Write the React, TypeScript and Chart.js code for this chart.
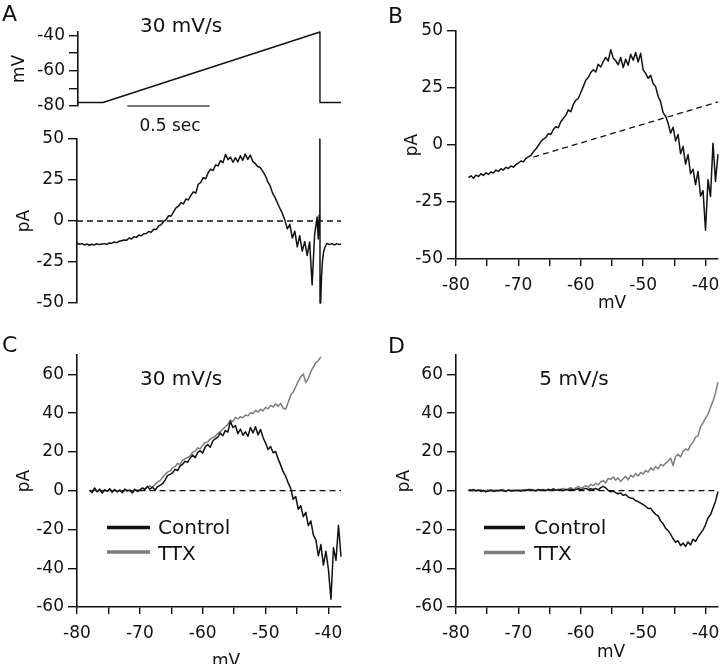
import React, { useEffect, useRef } from 'react';
import { Chart, registerables } from 'chart.js';

Chart.register(...registerables);

const FONT = "'DejaVu Sans', sans-serif";
const INK = '#111111';
const GRAY = '#7d7d7d';
const TRACE_W = 1.5;

// ---------- Panel A: command voltage (time in s, mV) ----------
const rampTime = [0, 0.152, 1.472, 1.472, 1.6];
const rampMV = [-78, -78, -38, -78, -78];
const scaleBarTime = [0.3, 0.8];
const scaleBarMV = [-80, -80];

// ---------- Panel A: current vs time (pA) ----------
const A_T_START = 0;
const A_T_STEP = 0.015;
const aCurrent = [
  -13.6, -14.2, -13.8, -14.6, -14.0, -14.8, -14.2, -14.6, -13.9, -14.4, -14.0,
  -13.8, -14.2, -13.4, -13.6, -12.8, -13.2, -12.4, -12.0, -11.6, -11.8,
  -10.4, -11.0, -9.6, -10.0, -8.6, -9.0, -7.8, -7.6, -6.4, -6.8,
  -5.0, -5.2, -3.0, -2.2, -0.4, 0.8, 3.2, 3.0, 5.6, 8.0,
  9.0, 11.2, 10.4, 13.4, 12.8, 15.6, 17.8, 17.0, 22.4, 23.6,
  26.4, 25.8, 29.4, 31.6, 30.8, 34.2, 33.6, 36.8, 35.6, 40.6,
  37.4, 39.0, 35.8, 38.6, 36.0, 39.8, 37.0, 40.8, 37.6, 40.2,
  36.4, 35.0, 33.2, 32.6, 30.4, 28.0, 24.2, 21.6, 17.0, 14.4,
  11.0, 7.6, 4.6, 0.4, -4.8, -2.0, -10.4, -6.2, -15.8, -9.0,
  -18.4, -12.6, -21.0, -12.8, -39.0, -8.4, 2.4,
];
const aTailTime = [1.462, 1.468, 1.472, 1.473, 1.477, 1.482, 1.488, 1.495, 1.505, 1.515, 1.53, 1.545, 1.56, 1.575, 1.59, 1.6];
const aTailPA = [-11.0, 3.6, 50, -50, -49, -34, -24, -18.5, -15.4, -13.6, -14.4, -13.8, -14.6, -13.8, -14.4, -14.0];
const aZeroTime = [0, 1.6];
const aZeroPA = [0, 0];

// ---------- I-V curves (mV, pA), sampled every 0.4 mV from -78 mV ----------
const V_START = -78;
const V_STEP = 0.4;
const bCurrent = [
  -14.3, -13.5, -14.6, -13.2, -13.8, -12.6, -13.4, -12.2, -12.9, -11.8,
  -12.3, -11.0, -11.6, -10.4, -11.0, -9.8, -10.3, -9.2, -9.7, -8.6,
  -7.9, -7.0, -7.4, -5.9, -5.2, -4.6, -3.0, -1.8, -0.2, 1.4,
  2.6, 3.2, 5.0, 4.6, 6.8, 8.0, 7.6, 10.2, 11.6, 13.0,
  15.4, 14.6, 17.8, 19.6, 20.4, 23.0, 25.6, 28.4, 29.6, 31.8,
  33.0, 32.0, 35.4, 34.2, 36.6, 38.4, 36.8, 41.8, 38.2, 37.0,
  35.2, 38.4, 34.0, 37.6, 35.0, 39.8, 37.2, 40.6, 36.4, 40.2,
  33.0, 31.4, 29.2, 30.6, 27.0, 25.6, 21.4, 19.0, 14.2, 12.6,
  9.6, 5.2, 7.8, 1.8, 4.6, -3.8, -0.6, -8.4, -4.2, -12.6,
  -10.6, -17.4, -11.6, -22.4, -20.0, -37.4, -15.2, -22.6, 0.8, -16.0, -4.0,
];
const bLeakMV = [-67.6, -38];
const bLeakPA = [-5.3, 18.9];

const cControl = [
  0.2, -1.0, 1.4, -0.6, 0.8, -1.2, 0.4, -0.4, 1.0, -0.8,
  0.6, -0.6, 0.2, -1.0, 0.8, -0.2, 0.4, -1.2, 0.6, -0.4,
  0.2, 1.4, 0.6, 2.2, 0.8, 1.8, 0.4, 2.0, 2.8, 3.6,
  5.4, 7.8, 8.4, 9.2, 11.0, 10.4, 12.8, 13.6, 15.2, 14.6,
  16.8, 18.4, 17.0, 19.8, 20.6, 19.4, 22.6, 23.8, 22.4, 25.6,
  26.8, 27.6, 29.8, 28.4, 31.0, 30.2, 35.8, 32.6, 33.6, 29.4,
  31.8, 28.6, 30.4, 28.0, 32.6, 29.8, 33.0, 28.8, 31.6, 27.4,
  24.6, 21.2, 22.8, 19.6, 20.2, 16.4, 13.2, 9.8, 7.4, 4.0,
  1.2, -4.4, -3.0, -9.6, -7.8, -13.4, -11.2, -18.0, -15.6, -22.8,
  -25.4, -33.6, -27.8, -38.4, -31.2, -40.6, -56.0, -29.4, -36.0, -17.8, -34.0,
];
const cTTX = [
  0.4, -0.6, 0.8, -0.4, 0.2, -0.8, 0.6, -0.2, 0.8, -0.6,
  0.4, -0.4, 0.6, -0.8, 0.2, 0.4, -0.2, -0.6, 0.8, 0.2,
  0.6, 1.2, 1.0, 2.0, 2.4, 1.6, 3.2, 4.4, 5.2, 6.8,
  8.4, 9.6, 10.2, 11.8, 12.4, 14.0, 13.6, 15.8, 16.4, 17.2,
  18.0, 19.8, 20.4, 22.0, 21.6, 23.4, 24.8, 25.2, 26.6, 27.4,
  28.2, 29.6, 30.4, 31.8, 33.0, 34.2, 36.4, 35.6, 37.8, 37.0,
  38.2, 37.6, 39.0, 38.6, 40.2, 39.8, 41.4, 40.6, 42.0, 41.2,
  43.0, 42.2, 44.0, 43.2, 44.8, 43.6, 45.0, 42.6, 42.0, 45.6,
  49.2, 51.0, 53.6, 56.4, 58.8, 60.2, 55.8, 58.0, 61.4, 63.8,
  66.0, 67.2, 69.0,
];
const dControl = [
  0.4, 0.0, 0.6, -0.2, 0.4, -0.4, 0.2, -0.6, -0.2, 0.4,
  -0.4, 0.2, -0.2, 0.4, 0.0, -0.4, 0.4, -0.2, 0.2, 0.0,
  0.2, -0.2, 0.4, 0.0, 0.6, 0.2, 0.4, -0.2, 0.6, 0.2,
  0.4, 0.0, 0.6, 0.2, 0.8, 0.4, 0.2, 0.6, 0.0, 0.6,
  0.4, 0.8, 0.2, 0.6, 1.0, 0.4, 0.8, 1.2, 0.6, 1.0,
  0.6, 1.2, 0.4, 1.6, 2.2, 1.4, 0.2, -0.6, -0.2, -1.0,
  -1.6, -1.2, -2.4, -2.0, -3.2, -3.8, -4.0, -5.2, -5.6, -6.4,
  -7.2, -8.0, -9.2, -9.0, -10.8, -12.2, -13.0, -15.6, -17.0, -19.4,
  -20.6, -22.4, -24.8, -26.6, -25.8, -28.4, -27.0, -28.8, -26.4, -28.0,
  -25.0, -26.2, -23.8, -22.0, -20.2, -17.6, -14.0, -12.4, -9.0, -5.4, -0.4,
];
const dTTX = [
  0.2, 0.6, -0.2, 0.4, 0.0, 0.6, -0.4, 0.2, 0.4, -0.2,
  0.2, -0.4, 0.4, 0.0, 0.6, -0.2, 0.4, 0.2, -0.4, 0.4,
  0.0, 0.4, -0.2, 0.6, 0.2, 0.8, 0.0, 0.4, 0.6, 0.2,
  0.6, 0.2, 0.8, 0.4, 1.0, 0.2, 0.8, 0.6, 1.2, 0.4,
  1.0, 1.6, 0.6, 1.4, 2.2, 1.2, 1.8, 2.6, 1.8, 3.2,
  2.6, 3.8, 3.0, 4.6, 5.2, 4.0, 6.4, 5.8, 7.2, 5.4,
  6.6, 4.8, 6.2, 7.4, 5.6, 8.0, 7.0, 8.8, 7.6, 9.4,
  8.6, 10.4, 9.6, 11.8, 10.6, 12.4, 11.2, 13.6, 12.8, 14.2,
  15.2, 16.8, 13.0, 17.6, 18.8, 17.4, 20.2, 21.6, 20.8, 23.4,
  25.0, 27.6, 28.4, 33.0, 35.0, 37.4, 39.4, 43.0, 46.2, 50.4, 56.0,
];
const zeroMV = [-78, -38];
const zeroPA = [0, 0];

// ---------- tick labels ----------
const mvTicksRamp = [-80, -60, -40];
const paTicksAB = [-50, -25, 0, 25, 50];
const paTicksCD = [-60, -40, -20, 0, 20, 40, 60];
const mvTicksIV = [-80, -70, -60, -50, -40];

// ---------- helpers ----------
const pairs = (xs: number[], ys: number[]) => xs.map((x, i) => ({ x, y: ys[i] }));
const sampled = (start: number, step: number, ys: number[]) =>
  ys.map((y, i) => ({ x: Math.round((start + i * step) * 10000) / 10000, y }));

const line = (data: any[], color = INK, width = TRACE_W, dash: number[] = []) => ({
  data,
  borderColor: color,
  borderWidth: width,
  borderDash: dash,
  borderJoinStyle: 'round',
  pointRadius: 0,
  tension: 0,
  fill: false,
  clip: false as const,
});

const labelCb = (labeled: number[]) => (v: any) => {
  const n = Number(v);
  const hit = labeled.find((l) => Math.abs(l - n) < 1e-6);
  return hit === undefined ? '' : String(hit);
};
const stepFilter = (step: number) => (s: any) => {
  s.ticks = s.ticks.filter((t: any) => Math.abs(t.value / step - Math.round(t.value / step)) < 1e-6);
};

function yAxis(min: number, max: number, step: number, labeled: number[], width: number, title: string, titlePad: number) {
  return {
    type: 'linear',
    position: 'left',
    min,
    max,
    ticks: {
      stepSize: step,
      includeBounds: false,
      autoSkip: false,
      padding: 4,
      color: INK,
      font: { family: FONT, size: 17 },
      callback: labelCb(labeled),
    },
    grid: { display: true, drawOnChartArea: false, drawTicks: true, tickLength: 9, color: INK, lineWidth: 1.4 },
    border: { display: true, color: INK, width: 1.6 },
    title: { display: true, text: title, color: INK, font: { family: FONT, size: 17 }, padding: { top: titlePad, bottom: 0 } },
    afterBuildTicks: stepFilter(step),
    afterFit: (s: any) => {
      s.width = width;
      s.paddingTop = 0;
      s.paddingBottom = 0;
      s.paddingLeft = 0;
      s.paddingRight = 0;
    },
  };
}

function xAxis(min: number, max: number, step: number, labeled: number[], height: number) {
  return {
    type: 'linear',
    position: 'bottom',
    min,
    max,
    ticks: {
      stepSize: step,
      includeBounds: false,
      autoSkip: false,
      maxRotation: 0,
      minRotation: 0,
      padding: 9,
      color: INK,
      font: { family: FONT, size: 17 },
      callback: labelCb(labeled),
    },
    grid: { display: true, drawOnChartArea: false, drawTicks: true, tickLength: 7, color: INK, lineWidth: 1.4 },
    border: { display: true, color: INK, width: 1.6 },
    afterBuildTicks: stepFilter(step),
    afterFit: (s: any) => {
      s.height = height;
      s.paddingTop = 0;
      s.paddingBottom = 0;
      s.paddingLeft = 0;
      s.paddingRight = 0;
    },
  };
}

const hiddenX = (min: number, max: number) => ({ type: 'linear', display: false, min, max });

type Txt = { text: string; x: number; y: number; size: number; align?: CanvasTextAlign; color?: string };
type Seg = { x1: number; y1: number; x2: number; y2: number; color: string; width: number };

const annot = (texts: Txt[], segs: Seg[] = []) => ({
  id: 'annot',
  afterDraw(chart: any) {
    const ctx: CanvasRenderingContext2D = chart.ctx;
    ctx.save();
    segs.forEach((s) => {
      ctx.strokeStyle = s.color;
      ctx.lineWidth = s.width;
      ctx.lineCap = 'butt';
      ctx.beginPath();
      ctx.moveTo(s.x1, s.y1);
      ctx.lineTo(s.x2, s.y2);
      ctx.stroke();
    });
    texts.forEach((t) => {
      ctx.font = `${t.size}px ${FONT}`;
      ctx.fillStyle = t.color || INK;
      ctx.textAlign = t.align || 'left';
      ctx.textBaseline = 'alphabetic';
      ctx.fillText(t.text, t.x, t.y);
    });
    ctx.restore();
  },
});

function config(datasets: any[], scales: any, padding: any, plugin: any) {
  return {
    type: 'line',
    data: { datasets },
    options: {
      responsive: false,
      animation: false,
      events: [],
      layout: { padding, autoPadding: false },
      plugins: { legend: { display: false }, tooltip: { enabled: false }, title: { display: false } },
      scales,
    },
    plugins: [plugin],
  } as any;
}

// ---------- panels ----------
const buildRamp = () =>
  config(
    [line(pairs(rampTime, rampMV), INK, 1.4), line(pairs(scaleBarTime, scaleBarMV), '#444444', 1.7)],
    { x: hiddenX(0, 1.6), y: yAxis(-80, -38, 10, mvTicksRamp, 78, 'mV', 9) },
    { left: 0, top: 32, right: 19, bottom: 34 },
    annot([
      { text: 'A', x: 2, y: 21, size: 22 },
      { text: '30 mV/s', x: 181, y: 32, size: 20, align: 'center' },
      { text: '0.5 sec', x: 170, y: 131, size: 17, align: 'center' },
    ])
  );

const buildATrace = () =>
  config(
    [
      line([...sampled(A_T_START, A_T_STEP, aCurrent), ...pairs(aTailTime, aTailPA)]),
      line(pairs(aZeroTime, aZeroPA), INK, 1.3, [6, 4]),
    ],
    { x: hiddenX(0, 1.6), y: yAxis(-50, 50, 25, paTicksAB, 77, 'pA', 14) },
    { left: 0, top: 19, right: 19, bottom: 17 },
    annot([])
  );

const buildB = () =>
  config(
    [line(sampled(V_START, V_STEP, bCurrent)), line(pairs(bLeakMV, bLeakPA), INK, 1.3, [6, 4])],
    { x: xAxis(-80, -38, 5, mvTicksIV, 61), y: yAxis(-50, 50, 25, paTicksAB, 96, 'pA', 42) },
    { left: 0, top: 31, right: 2, bottom: 0 },
    annot([
      { text: 'B', x: 28, y: 23, size: 22 },
      { text: 'mV', x: 252, y: 308, size: 17, align: 'center' },
    ])
  );

const buildC = () =>
  config(
    [
      line(sampled(V_START, V_STEP, cControl)),
      line(sampled(V_START, V_STEP, cTTX), GRAY),
      line(pairs(zeroMV, zeroPA), INK, 1.3, [6, 4]),
    ],
    { x: xAxis(-80, -38, 5, mvTicksIV, 57), y: yAxis(-60, 70, 20, paTicksCD, 77, 'pA', 14) },
    { left: 0, top: 35, right: 19, bottom: 0 },
    annot(
      [
        { text: 'C', x: 2, y: 32, size: 22 },
        { text: '30 mV/s', x: 181, y: 65, size: 20, align: 'center' },
        { text: 'Control', x: 158, y: 214, size: 20 },
        { text: 'TTX', x: 158, y: 240, size: 20 },
        { text: 'mV', x: 226, y: 346, size: 17, align: 'center' },
      ],
      [
        { x1: 107, y1: 207.5, x2: 150, y2: 207.5, color: INK, width: 3.5 },
        { x1: 107, y1: 232, x2: 150, y2: 232, color: GRAY, width: 3.5 },
      ]
    )
  );

const buildD = () =>
  config(
    [
      line(sampled(V_START, V_STEP, dControl)),
      line(sampled(V_START, V_STEP, dTTX), GRAY),
      line(pairs(zeroMV, zeroPA), INK, 1.3, [6, 4]),
    ],
    { x: xAxis(-80, -38, 5, mvTicksIV, 57), y: yAxis(-60, 70, 20, paTicksCD, 96, 'pA', 34) },
    { left: 0, top: 35, right: 2, bottom: 0 },
    annot(
      [
        { text: 'D', x: 28, y: 33, size: 22 },
        { text: '5 mV/s', x: 214, y: 65, size: 20, align: 'center' },
        { text: 'Control', x: 174, y: 214, size: 20 },
        { text: 'TTX', x: 174, y: 240, size: 20 },
        { text: 'mV', x: 251, y: 337, size: 17, align: 'center' },
      ],
      [
        { x1: 124, y1: 207.5, x2: 165, y2: 207.5, color: INK, width: 3.5 },
        { x1: 124, y1: 232.5, x2: 165, y2: 232.5, color: GRAY, width: 3.5 },
      ]
    )
  );

type PanelProps = { left: number; top: number; width: number; height: number; build: () => any };

function Panel({ left, top, width, height, build }: PanelProps) {
  const ref = useRef<HTMLCanvasElement>(null);
  useEffect(() => {
    if (!ref.current) return;
    const chart = new Chart(ref.current, build());
    return () => chart.destroy();
  }, [build]);
  return (
    <canvas
      ref={ref}
      width={width}
      height={height}
      style={{ position: 'absolute', left, top, width, height }}
    />
  );
}

export default function App() {
  return (
    <div
      style={{
        position: 'absolute',
        left: 0,
        top: 0,
        width: 720,
        height: 664,
        background: '#ffffff',
        overflow: 'hidden',
      }}
    >
      <Panel left={0} top={0} width={360} height={140} build={buildRamp} />
      <Panel left={0} top={120} width={360} height={200} build={buildATrace} />
      <Panel left={360} top={0} width={360} height={320} build={buildB} />
      <Panel left={0} top={320} width={360} height={344} build={buildC} />
      <Panel left={360} top={320} width={360} height={344} build={buildD} />
    </div>
  );
}
